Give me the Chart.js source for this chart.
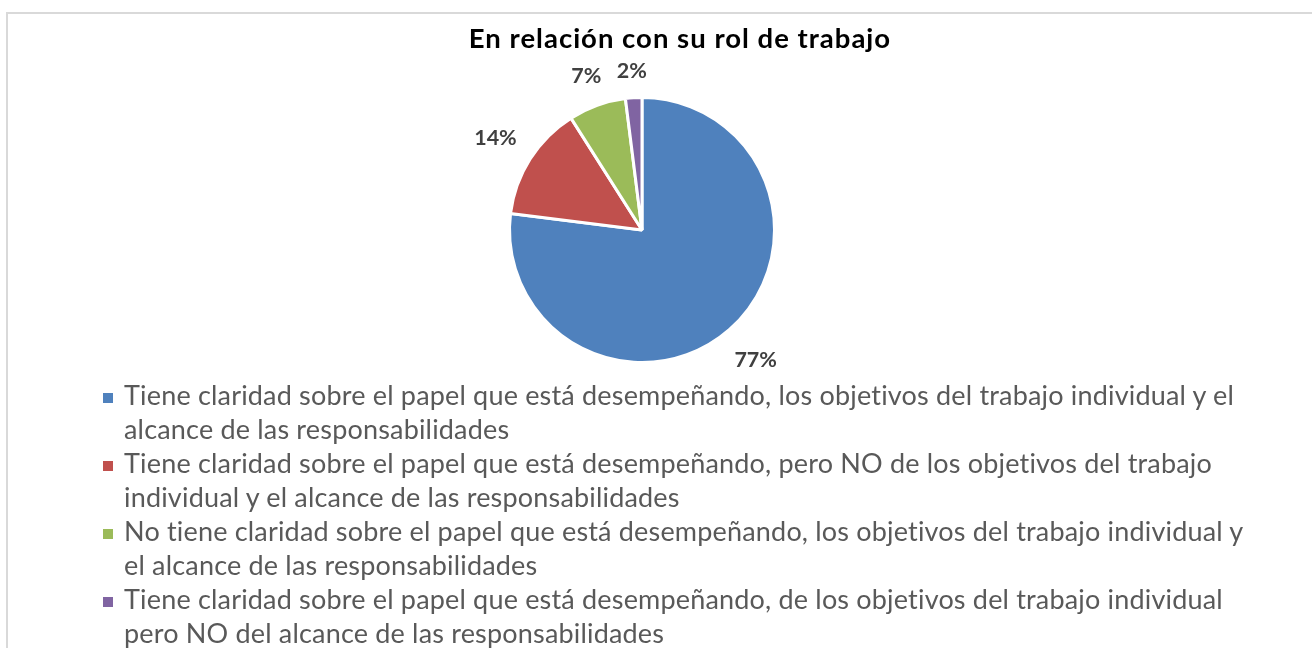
<!DOCTYPE html>
<html>
<head>
<meta charset="utf-8">
<script src="https://cdn.jsdelivr.net/npm/chart.js@4.4.1/dist/chart.umd.min.js"></script>
<style>
  html, body { margin: 0; padding: 0; background: #fff; }
  body { width: 1312px; height: 648px; position: relative; overflow: hidden; font-family: Lato, 'Noto Sans', sans-serif; font-variant-ligatures: none; font-feature-settings: "liga" 0, "clig" 0; }
  #frame { position: absolute; left: 6px; top: 12px; width: 1400px; height: 700px; border-left: 2px solid #d9d9d9; border-top: 2px solid #d9d9d9; }
  #chart { position: absolute; left: 0; top: 0; }
  #title { position: absolute; left: 0; width: 1360px; top: 21px; text-align: center; font-weight: bold; font-size: 27.5px; letter-spacing: 1px; color: #000; line-height: 34px; }
  #legend { position: absolute; left: 103px; top: 378px; color: #595959; font-size: 27px; letter-spacing: 0.18px; line-height: 34px; }
  .item { position: relative; padding-left: 21px; }
  .item .box { position: absolute; left: 0; top: 15px; width: 10px; height: 10px; }
  .item div.line { white-space: nowrap; }
</style>
</head>
<body>
<div id="frame"></div>
<canvas id="chart" width="1312" height="648"></canvas>
<div id="title"></div>
<div id="legend"></div>
<script>
const chartTitle = 'En relación con su rol de trabajo';
const categories = [
    ['Tiene claridad sobre el papel que está desempeñando, los objetivos del trabajo individual y el', 'alcance de las responsabilidades'],
    ['Tiene claridad sobre el papel que está desempeñando, pero NO de los objetivos del trabajo', 'individual y el alcance de las responsabilidades'],
    ['No tiene claridad sobre el papel que está desempeñando, los objetivos del trabajo individual y', 'el alcance de las responsabilidades'],
    ['Tiene claridad sobre el papel que está desempeñando, de los objetivos del trabajo individual', 'pero NO del alcance de las responsabilidades']
];
const percentages = [77, 14, 7, 2];
const sliceColors = ['#4f81bd', '#c0504d', '#9bbb59', '#8064a2'];

document.addEventListener("DOMContentLoaded", function() {

    document.getElementById('title').textContent = chartTitle;

    // legend built as html so the long labels wrap like the original
    const legendEl = document.getElementById('legend');
    categories.forEach(function(lines, i) {
        const item = document.createElement('div');
        item.className = 'item';
        const box = document.createElement('span');
        box.className = 'box';
        box.style.background = sliceColors[i];
        item.appendChild(box);
        lines.forEach(function(t) {
            const l = document.createElement('div');
            l.className = 'line';
            l.textContent = t;
            item.appendChild(l);
        });
        legendEl.appendChild(item);
    });

    // percentage labels outside each slice
    const outsideLabels = {
        id: 'outsideLabels',
        afterDatasetsDraw(chart) {
            const ctx = chart.ctx;
            const meta = chart.getDatasetMeta(0);
            const values = chart.data.datasets[0].data;
            const total = values.reduce(function(a, b) { return a + b; }, 0);
            ctx.save();
            ctx.font = "bold 21.5px Lato, 'Noto Sans', sans-serif";
            ctx.fillStyle = '#404040';
            ctx.textAlign = 'center';
            ctx.textBaseline = 'middle';
            meta.data.forEach(function(arc, i) {
                const p = arc.getProps(['x', 'y', 'startAngle', 'endAngle', 'outerRadius'], true);
                const mid = (p.startAngle + p.endAngle) / 2;
                const txt = Math.round(values[i] / total * 100) + '%';
                const w = ctx.measureText(txt).width;
                const c = Math.cos(mid), s = Math.sin(mid);
                const d = p.outerRadius + 15 + (w / 2 + 2) * Math.abs(c) + 12 * Math.abs(s);
                ctx.fillText(txt, p.x + d * c, p.y + d * s + 1);
            });
            ctx.restore();
        }
    };

    const ctx = document.getElementById('chart').getContext('2d');
    new Chart(ctx, {
        type: 'pie',
        data: {
            labels: categories.map(function(l) { return l.join(' '); }),
            datasets: [{
                data: percentages,
                backgroundColor: sliceColors,
                borderColor: '#ffffff',
                borderWidth: 3,
                hoverOffset: 0
            }]
        },
        options: {
            responsive: false,
            animation: false,
            layout: {
                padding: { left: 508, right: 536, top: 96, bottom: 284 }
            },
            plugins: {
                legend: { display: false },
                title: { display: false },
                tooltip: { enabled: false }
            }
        },
        plugins: [outsideLabels]
    });
});
</script>
</body>
</html>
